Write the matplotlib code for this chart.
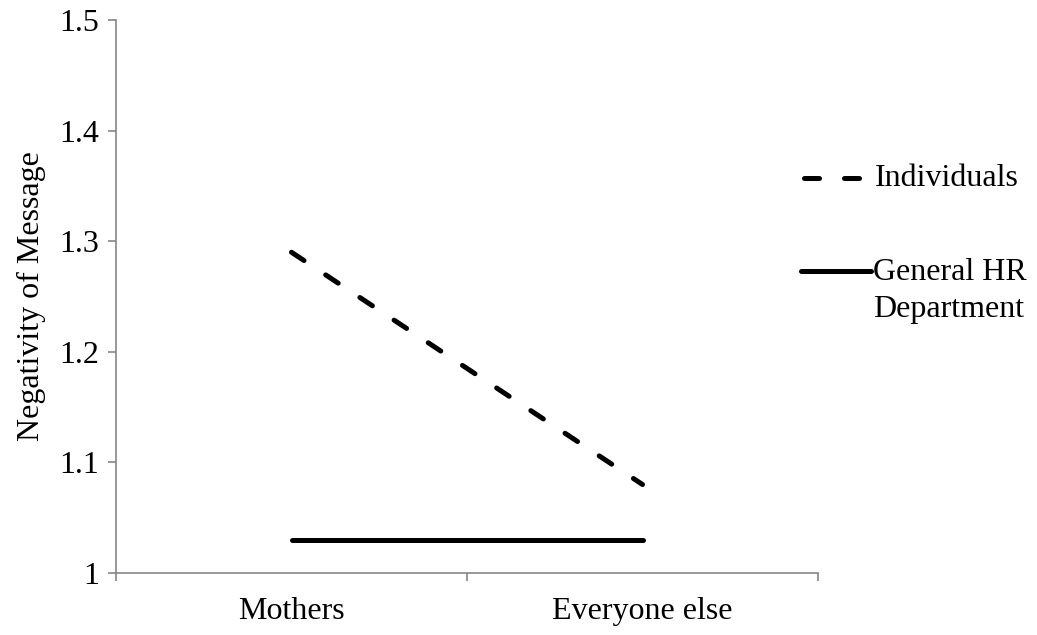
import matplotlib
matplotlib.use("Agg")
import matplotlib.pyplot as plt
from matplotlib.lines import Line2D

categories = ["Mothers", "Everyone else"]
individuals = [1.29, 1.08]
general_hr = [1.03, 1.03]
series_labels = ["Individuals", "General HR\nDepartment"]
y_ticks = [1.0, 1.1, 1.2, 1.3, 1.4, 1.5]
y_tick_labels = ["1", "1.1", "1.2", "1.3", "1.4", "1.5"]

plt.rcParams['font.family'] = ['Liberation Serif', 'DejaVu Serif']
FS = 23

W, H = 1037, 635
fig = plt.figure(figsize=(W / 100, H / 100), dpi=100)
ax = fig.add_axes([116 / W, 1 - 573 / H, (818 - 116) / W, (573 - 20) / H])

x = [0.5, 1.5]
lw = 3.6
ax.plot(x, individuals, color="black", lw=lw, linestyle=(0, (3, 5.2)),
        dash_capstyle="round")
ax.plot(x, general_hr, color="black", lw=lw, solid_capstyle="round")

ax.set_xlim(0, 2)
ax.set_ylim(1.0, 1.5)
ax.set_yticks(y_ticks)
ax.set_yticklabels(y_tick_labels)
ax.set_xticks([0, 1, 2])
ax.set_xticklabels([])
ax.set_xticks(x, minor=True)
ax.set_xticklabels(categories, minor=True)
ax.tick_params(axis="x", which="minor", length=0, labelsize=FS, pad=17)
ax.tick_params(axis="x", which="major", length=6, width=1.2, color="#868686", direction="out")
ax.tick_params(axis="y", length=6, width=1.2, color="#868686", direction="out",
               labelsize=FS, pad=6)

for s in ["top", "right"]:
    ax.spines[s].set_visible(False)
for s in ["left", "bottom"]:
    ax.spines[s].set_color("#868686")
    ax.spines[s].set_linewidth(1.2)

ax.set_ylabel("Negativity of Message", fontsize=FS, labelpad=10)

# legend drawn manually
fx = lambda px: px / W
fy = lambda py: 1 - py / H
fig.add_artist(Line2D([fx(803.5), fx(858.5)], [fy(178), fy(178)], color="black", lw=lw,
                      linestyle=(0, (3, 5)), dash_capstyle="round"))
fig.text(fx(875), fy(178), series_labels[0], fontsize=FS, va="center", ha="left")
fig.add_artist(Line2D([fx(801), fx(871)], [fy(271), fy(271)], color="black", lw=lw,
                      solid_capstyle="round"))
fig.text(fx(873), fy(272), series_labels[1].split("\n")[0], fontsize=FS, va="center", ha="left")
fig.text(fx(873), fy(310), series_labels[1].split("\n")[1], fontsize=FS, va="center", ha="left")

fig.savefig("out.png", dpi=100)
